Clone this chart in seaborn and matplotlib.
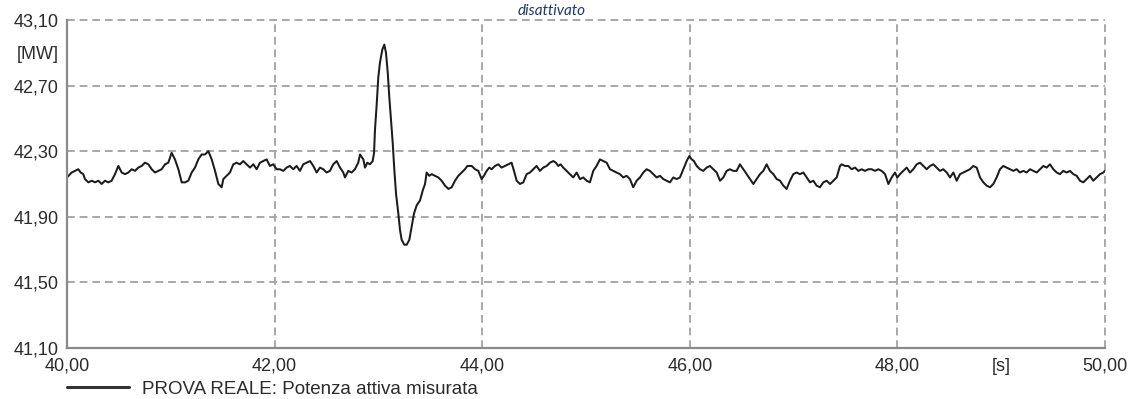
import matplotlib
matplotlib.use("Agg")
import matplotlib.pyplot as plt
import numpy as np
import pandas as pd
import seaborn as sns

# Measured active power of the real test, 40-50 s window
time_s = [
    40.000, 40.045, 40.077, 40.109, 40.132, 40.157, 40.173, 40.206, 40.238, 40.270,
    40.302, 40.334, 40.366, 40.398, 40.430, 40.462, 40.495, 40.527, 40.559, 40.591,
    40.623, 40.655, 40.687, 40.719, 40.751, 40.784, 40.816, 40.848, 40.880, 40.912,
    40.944, 40.976, 41.008, 41.040, 41.073, 41.105, 41.137, 41.169, 41.201, 41.233,
    41.265, 41.297, 41.329, 41.362, 41.394, 41.426, 41.458, 41.490, 41.506, 41.538,
    41.570, 41.602, 41.634, 41.666, 41.698, 41.731, 41.763, 41.795, 41.827, 41.859,
    41.891, 41.923, 41.955, 41.987, 42.020, 42.052, 42.084, 42.116, 42.148, 42.180,
    42.212, 42.244, 42.276, 42.309, 42.341, 42.373, 42.405, 42.437, 42.469, 42.501,
    42.533, 42.565, 42.598, 42.630, 42.662, 42.678, 42.710, 42.742, 42.774, 42.806,
    42.823, 42.855, 42.871, 42.893, 42.919, 42.945, 42.958, 42.967, 42.984, 42.999,
    43.015, 43.038, 43.057, 43.073, 43.090, 43.105, 43.121, 43.138, 43.153, 43.170,
    43.192, 43.208, 43.224, 43.249, 43.273, 43.298, 43.321, 43.343, 43.369, 43.401,
    43.427, 43.449, 43.465, 43.490, 43.513, 43.545, 43.577, 43.609, 43.642, 43.674,
    43.706, 43.738, 43.770, 43.802, 43.834, 43.857, 43.899, 43.931, 43.963, 43.994,
    44.017, 44.043, 44.068, 44.091, 44.123, 44.155, 44.187, 44.219, 44.251, 44.283,
    44.306, 44.332, 44.364, 44.396, 44.428, 44.460, 44.492, 44.524, 44.556, 44.588,
    44.621, 44.653, 44.685, 44.710, 44.733, 44.755, 44.781, 44.813, 44.845, 44.877,
    44.910, 44.942, 44.974, 45.006, 45.038, 45.070, 45.102, 45.134, 45.167, 45.199,
    45.231, 45.263, 45.295, 45.327, 45.359, 45.391, 45.423, 45.455, 45.488, 45.520,
    45.552, 45.584, 45.616, 45.648, 45.681, 45.713, 45.745, 45.777, 45.809, 45.841,
    45.873, 45.905, 45.937, 45.970, 45.995, 46.018, 46.040, 46.066, 46.098, 46.130,
    46.162, 46.194, 46.226, 46.259, 46.291, 46.323, 46.355, 46.387, 46.419, 46.451,
    46.483, 46.516, 46.548, 46.580, 46.612, 46.644, 46.676, 46.708, 46.740, 46.772,
    46.805, 46.837, 46.869, 46.901, 46.933, 46.965, 46.997, 47.029, 47.061, 47.094,
    47.126, 47.158, 47.190, 47.222, 47.254, 47.286, 47.319, 47.351, 47.383, 47.415,
    47.447, 47.463, 47.495, 47.527, 47.559, 47.592, 47.624, 47.656, 47.688, 47.720,
    47.752, 47.784, 47.816, 47.848, 47.881, 47.913, 47.945, 47.977, 47.999, 48.025,
    48.057, 48.089, 48.121, 48.153, 48.186, 48.218, 48.250, 48.282, 48.314, 48.346,
    48.378, 48.410, 48.442, 48.475, 48.507, 48.539, 48.571, 48.603, 48.635, 48.667,
    48.699, 48.731, 48.764, 48.796, 48.828, 48.860, 48.892, 48.924, 48.956, 48.988,
    49.020, 49.053, 49.085, 49.117, 49.149, 49.181, 49.213, 49.245, 49.277, 49.310,
    49.342, 49.374, 49.406, 49.438, 49.470, 49.502, 49.535, 49.566, 49.598, 49.631,
    49.663, 49.695, 49.727, 49.759, 49.791, 49.823, 49.855, 49.887, 49.920, 49.952,
    49.984, 50.000,
]

power_mw = [
    42.14, 42.17, 42.18, 42.19, 42.17, 42.16, 42.13, 42.11, 42.12, 42.11,
    42.12, 42.10, 42.12, 42.11, 42.12, 42.16, 42.21, 42.17, 42.16, 42.17,
    42.19, 42.18, 42.20, 42.21, 42.23, 42.22, 42.19, 42.17, 42.18, 42.19,
    42.22, 42.23, 42.29, 42.25, 42.19, 42.11, 42.11, 42.12, 42.17, 42.20,
    42.25, 42.28, 42.28, 42.30, 42.25, 42.18, 42.10, 42.08, 42.13, 42.15,
    42.17, 42.22, 42.23, 42.22, 42.24, 42.22, 42.20, 42.22, 42.19, 42.23,
    42.24, 42.25, 42.21, 42.22, 42.19, 42.19, 42.18, 42.20, 42.21, 42.19,
    42.21, 42.18, 42.22, 42.23, 42.24, 42.21, 42.17, 42.20, 42.19, 42.17,
    42.18, 42.22, 42.24, 42.20, 42.17, 42.14, 42.18, 42.17, 42.19, 42.23,
    42.28, 42.25, 42.20, 42.23, 42.22, 42.24, 42.29, 42.43, 42.59, 42.75,
    42.84, 42.92, 42.95, 42.90, 42.78, 42.63, 42.49, 42.35, 42.19, 42.04,
    41.92, 41.82, 41.76, 41.73, 41.73, 41.76, 41.84, 41.92, 41.97, 42.00,
    42.06, 42.10, 42.17, 42.15, 42.16, 42.15, 42.14, 42.12, 42.09, 42.07,
    42.08, 42.12, 42.15, 42.17, 42.19, 42.21, 42.21, 42.19, 42.18, 42.13,
    42.15, 42.18, 42.20, 42.19, 42.21, 42.22, 42.20, 42.21, 42.22, 42.23,
    42.18, 42.12, 42.10, 42.11, 42.16, 42.17, 42.19, 42.21, 42.18, 42.20,
    42.21, 42.23, 42.24, 42.23, 42.21, 42.22, 42.20, 42.18, 42.16, 42.14,
    42.17, 42.13, 42.14, 42.12, 42.11, 42.18, 42.21, 42.25, 42.24, 42.23,
    42.19, 42.18, 42.17, 42.16, 42.14, 42.15, 42.13, 42.08, 42.12, 42.14,
    42.17, 42.19, 42.18, 42.16, 42.14, 42.15, 42.13, 42.12, 42.11, 42.14,
    42.13, 42.14, 42.19, 42.24, 42.27, 42.25, 42.24, 42.21, 42.19, 42.18,
    42.20, 42.21, 42.19, 42.17, 42.12, 42.14, 42.18, 42.19, 42.18, 42.18,
    42.22, 42.19, 42.16, 42.13, 42.10, 42.13, 42.16, 42.18, 42.22, 42.18,
    42.16, 42.13, 42.12, 42.09, 42.07, 42.12, 42.16, 42.17, 42.16, 42.17,
    42.14, 42.11, 42.12, 42.09, 42.08, 42.11, 42.12, 42.10, 42.12, 42.14,
    42.21, 42.22, 42.21, 42.21, 42.19, 42.20, 42.18, 42.19, 42.18, 42.19,
    42.19, 42.18, 42.19, 42.18, 42.16, 42.10, 42.14, 42.17, 42.14, 42.16,
    42.18, 42.20, 42.17, 42.19, 42.22, 42.23, 42.21, 42.19, 42.21, 42.22,
    42.20, 42.18, 42.19, 42.17, 42.14, 42.17, 42.12, 42.16, 42.17, 42.18,
    42.19, 42.21, 42.20, 42.14, 42.11, 42.09, 42.08, 42.10, 42.14, 42.19,
    42.21, 42.20, 42.19, 42.18, 42.19, 42.17, 42.18, 42.17, 42.19, 42.18,
    42.17, 42.19, 42.21, 42.20, 42.22, 42.19, 42.17, 42.16, 42.18, 42.17,
    42.18, 42.16, 42.15, 42.12, 42.11, 42.13, 42.15, 42.12, 42.14, 42.16,
    42.17, 42.18,
]

series_label = "PROVA REALE: Potenza attiva misurata"
chart_title = "disattivato"

x_major = [40, 42, 44, 46, 48, 50]
x_major_labels = ["40,00", "42,00", "44,00", "46,00", "48,00", "50,00"]
x_minor = [41, 43, 45, 47, 49]
x_minor_labels = ["", "", "", "", "[s]"]

y_major = [41.10, 41.50, 41.90, 42.30, 42.70, 43.10]
y_major_labels = ["41,10", "41,50", "41,90", "42,30", "42,70", "43,10"]
y_minor = [41.30, 41.70, 42.10, 42.50, 42.90]
y_minor_labels = ["", "", "", "", "[MW]"]

df = pd.DataFrame({"t": time_s, "p": power_mw})

sns.set_style("white")
plt.rcParams["font.family"] = ["Liberation Sans", "DejaVu Sans"]

W, H = 1140, 399
fig = plt.figure(figsize=(W / 100, H / 100), dpi=100)
ax = fig.add_axes([67 / W, 1 - 348 / H, (1105 - 67) / W, (348 - 20) / H])

sns.lineplot(data=df, x="t", y="p", ax=ax, color="#1c1c1c", linewidth=1.45,
             estimator=None, label=series_label)

ax.set_xlim(40, 50)
ax.set_ylim(41.10, 43.10)

tick_color = "#2b2b2b"
ax.set_xticks(x_major)
ax.set_xticklabels(x_major_labels)
ax.set_xticks(x_minor, minor=True)
ax.set_xticklabels(x_minor_labels, minor=True)
ax.set_yticks(y_major)
ax.set_yticklabels(y_major_labels)
ax.set_yticks(y_minor, minor=True)
ax.set_yticklabels(y_minor_labels, minor=True)

ax.tick_params(axis="both", which="both", direction="in", colors="#8a8a8a",
               labelcolor=tick_color, labelsize=13, width=1.2)
ax.tick_params(axis="both", which="major", length=0)
ax.tick_params(axis="both", which="minor", length=4)
ax.tick_params(axis="x", which="both", pad=7)
ax.tick_params(axis="y", which="both", pad=6)

ax.set_xlabel("")
ax.set_ylabel("")

ax.grid(True, which="major", color="#a8a8a8", linestyle=(0, (4, 2.5)),
        linewidth=1.4)
for gl in ax.get_xgridlines() + ax.get_ygridlines():
    gl.set_clip_on(False)

for side in ("top", "right"):
    ax.spines[side].set_visible(False)
for side in ("left", "bottom"):
    ax.spines[side].set_color("#8a8a8a")
    ax.spines[side].set_linewidth(1.6)

leg = ax.legend(loc="center left", bbox_to_anchor=(67 / W, 1 - 389 / H),
                bbox_transform=fig.transFigure, frameon=False, fontsize=13.5,
                handlelength=3.3, handletextpad=0.7, borderpad=0,
                borderaxespad=0)
for txt in leg.get_texts():
    txt.set_color(tick_color)
for line in leg.get_lines():
    line.set_linewidth(2.2)
    line.set_color("#333333")

# Title kept small so it fits in the strip above the plot frame
fig.text(552 / W, 1 - 15 / H, chart_title, ha="center", va="baseline",
         fontsize=11, style="italic", color="#1f3864", family="Lato")

fig.savefig("out.png", dpi=100)
